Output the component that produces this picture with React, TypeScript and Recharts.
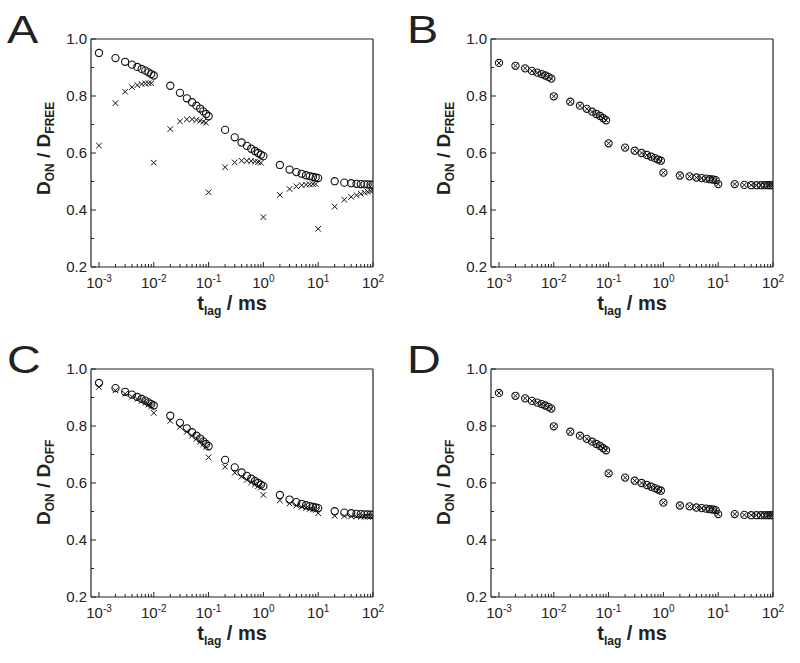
import { Scatter, ScatterChart, XAxis, YAxis } from "recharts";

const lagTimes = [
	0.001, 0.002, 0.003, 0.004, 0.005, 0.006, 0.007, 0.008, 0.009,
	0.01, 0.02, 0.03, 0.04, 0.05, 0.06, 0.07, 0.08, 0.09,
	0.1, 0.2, 0.3, 0.4, 0.5, 0.6, 0.7, 0.8, 0.9,
	1, 2, 3, 4, 5, 6, 7, 8, 9,
	10, 20, 30, 40, 50, 60, 70, 80, 90,
	100,
];

// D_ON circles, shared by panels A and C
const onCircles = [
	0.951, 0.933, 0.92, 0.91, 0.902, 0.895, 0.889, 0.883, 0.877,
	0.872, 0.836, 0.811, 0.792, 0.778, 0.766, 0.756, 0.746, 0.737,
	0.729, 0.681, 0.655, 0.637, 0.625, 0.615, 0.607, 0.6, 0.594,
	0.589, 0.558, 0.542, 0.533, 0.527, 0.522, 0.519, 0.516, 0.514,
	0.512, 0.501, 0.496, 0.494, 0.492, 0.491, 0.49, 0.49, 0.489,
	0.489,
];

const freeCrosses = [
	0.626, 0.775, 0.815, 0.831, 0.838, 0.842, 0.844, 0.845, 0.845,
	0.566, 0.684, 0.711, 0.718, 0.718, 0.716, 0.713, 0.71, 0.706,
	0.462, 0.55, 0.567, 0.573, 0.573, 0.572, 0.57, 0.568, 0.566,
	0.375, 0.453, 0.474, 0.483, 0.487, 0.489, 0.49, 0.491, 0.491,
	0.334, 0.412, 0.436, 0.446, 0.452, 0.457, 0.461, 0.464, 0.467,
	0.469,
];

const offCrosses = [
	0.937, 0.925, 0.913, 0.903, 0.895, 0.888, 0.881, 0.875, 0.869,
	0.846, 0.818, 0.797, 0.78, 0.766, 0.755, 0.745, 0.736, 0.727,
	0.69, 0.657, 0.636, 0.622, 0.611, 0.602, 0.595, 0.589, 0.584,
	0.558, 0.539, 0.528, 0.521, 0.516, 0.512, 0.509, 0.507, 0.505,
	0.494, 0.485, 0.484, 0.483, 0.483, 0.482, 0.482, 0.482, 0.482,
	0.482,
];

// panels B and D: both series sit on top of each other
const overlapValues = [
	0.916, 0.906, 0.897, 0.888, 0.882, 0.877, 0.872, 0.867, 0.861,
	0.799, 0.78, 0.766, 0.755, 0.745, 0.737, 0.73, 0.722, 0.715,
	0.634, 0.619, 0.608, 0.6, 0.593, 0.587, 0.582, 0.577, 0.573,
	0.531, 0.521, 0.518, 0.514, 0.512, 0.51, 0.508, 0.507, 0.505,
	0.491, 0.491, 0.488, 0.487, 0.487, 0.487, 0.487, 0.487, 0.487,
	0.487,
];

const xTicks = [
	0.001, 0.002, 0.003, 0.004, 0.005, 0.006, 0.007, 0.008, 0.009,
	0.01, 0.02, 0.03, 0.04, 0.05, 0.06, 0.07, 0.08, 0.09,
	0.1, 0.2, 0.3, 0.4, 0.5, 0.6, 0.7, 0.8, 0.9,
	1, 2, 3, 4, 5, 6, 7, 8, 9,
	10, 20, 30, 40, 50, 60, 70, 80, 90,
	100,
];
const yTicks = [0.2, 0.3, 0.4, 0.5, 0.6, 0.7, 0.8, 0.9, 1.0];

const FONT = "'Liberation Sans', Arial, Helvetica, sans-serif";
const INK = "#222";

const XTick = ({ x, y, payload }: any) => {
	const v = payload.value;
	const lg = Math.log10(v);
	const exp = Math.round(lg);
	const major = Math.abs(lg - exp) < 1e-6;
	return (
		<g>
			<line x1={x} x2={x} y1={y} y2={y - (major ? 5 : 3)} stroke={INK} strokeWidth={1} />
			{major && (
				<text x={x} y={y + 21} textAnchor="middle" fontFamily={FONT} fontSize={15} fill={INK}>
					10
					<tspan fontSize={10} dy={-6}>
						{exp}
					</tspan>
				</text>
			)}
		</g>
	);
};

const YTick = ({ x, y, payload }: any) => {
	const v = payload.value;
	const major = Math.round(v * 10) % 2 === 0;
	return (
		<g>
			<line x1={x} x2={x + (major ? 5 : 3)} y1={y} y2={y} stroke={INK} strokeWidth={1} />
			{major && (
				<text x={x - 4} y={y + 5} textAnchor="end" fontFamily={FONT} fontSize={15} fill={INK}>
					{v.toFixed(1)}
				</text>
			)}
		</g>
	);
};

const XTitle = () => (
	<text x={232} y={310} textAnchor="middle" fontFamily={FONT} fontSize={20} fontWeight="bold" fill={INK}>
		t
		<tspan fontSize={12} dy={5}>
			lag
		</tspan>
		<tspan dy={-5}>{" / ms"}</tspan>
	</text>
);

const YTitle = ({ denom }: { denom: string }) => (
	<text
		x={50}
		y={195}
		transform="rotate(-90 50 195)"
		fontFamily={FONT}
		fontSize={19}
		fontWeight="bold"
		fill={INK}
	>
		D
		<tspan fontSize={12} dy={4}>
			ON
		</tspan>
		<tspan dy={-4}>{" / D"}</tspan>
		<tspan fontSize={12} dy={4}>
			{denom}
		</tspan>
	</text>
);

const Letter = ({ letter }: { letter: string }) => (
	<text
		x={7}
		y={43}
		transform="translate(7 0) scale(1.2 1) translate(-7 0)"
		fontFamily={FONT}
		fontSize={39}
		fill={INK}
	>
		{letter}
	</text>
);

const circleShape = (p: any) => (
	<circle cx={p.cx} cy={p.cy} r={3.6} fill="none" stroke="#111" strokeWidth={1.1} />
);

const crossShape = (s: number) => (p: any) => (
	<path
		d={`M${p.cx - s},${p.cy - s}L${p.cx + s},${p.cy + s}M${p.cx - s},${p.cy + s}L${p.cx + s},${p.cy - s}`}
		stroke="#111"
		strokeWidth={1}
		fill="none"
	/>
);

type PanelProps = {
	letter: string;
	denom: string;
	circles: number[];
	crosses: number[];
	crossSize: number;
	left: number;
	top: number;
};

function Panel({ letter, denom, circles, crosses, crossSize, left, top }: PanelProps) {
	const circleData = lagTimes.map((t, i) => ({ t, v: circles[i] }));
	const crossData = lagTimes.map((t, i) => ({ t, v: crosses[i] }));
	return (
		<div style={{ position: "absolute", left, top, width: 400, height: 330 }}>
			<ScatterChart width={400} height={330} margin={{ top: 38, right: 26, bottom: 62, left: 90 }}>
				<XAxis
					dataKey="t"
					type="number"
					scale="log"
					domain={[0.000715, 100]}
					allowDataOverflow
					ticks={xTicks}
					interval={0}
					tick={(p: any) => <XTick {...p} />}
					tickLine={false}
					tickSize={0}
					tickMargin={0}
					height={1}
					axisLine={{ stroke: INK, strokeWidth: 1.2 }}
					label={<XTitle />}
				/>
				<XAxis
					xAxisId="top"
					orientation="top"
					type="number"
					scale="log"
					domain={[0.000715, 100]}
					allowDataOverflow
					tick={false}
					tickLine={false}
					height={1}
					axisLine={{ stroke: INK, strokeWidth: 1.2 }}
					label={<Letter letter={letter} />}
				/>
				<YAxis
					dataKey="v"
					type="number"
					domain={[0.2, 1.0]}
					allowDataOverflow
					ticks={yTicks}
					interval={0}
					tick={(p: any) => <YTick {...p} />}
					tickLine={false}
					tickSize={0}
					tickMargin={0}
					width={1}
					axisLine={{ stroke: INK, strokeWidth: 1.2 }}
					label={<YTitle denom={denom} />}
				/>
				<YAxis
					yAxisId="right"
					orientation="right"
					type="number"
					domain={[0.2, 1.0]}
					tick={false}
					tickLine={false}
					width={1}
					axisLine={{ stroke: INK, strokeWidth: 1.2 }}
				/>
				<Scatter data={crossData} dataKey="v" isAnimationActive={false} shape={crossShape(crossSize)} />
				<Scatter data={circleData} dataKey="v" isAnimationActive={false} shape={circleShape} />
			</ScatterChart>
		</div>
	);
}

export default function App() {
	return (
		<div style={{ position: "absolute", left: 0, top: 0, width: 800, height: 663, background: "#fff" }}>
			<Panel letter="A" denom="FREE" circles={onCircles} crosses={freeCrosses} crossSize={2.8} left={0} top={0} />
			<Panel letter="B" denom="FREE" circles={overlapValues} crosses={overlapValues} crossSize={2.3} left={400} top={0} />
			<Panel letter="C" denom="OFF" circles={onCircles} crosses={offCrosses} crossSize={2.8} left={0} top={330} />
			<Panel letter="D" denom="OFF" circles={overlapValues} crosses={overlapValues} crossSize={2.3} left={400} top={330} />
		</div>
	);
}
